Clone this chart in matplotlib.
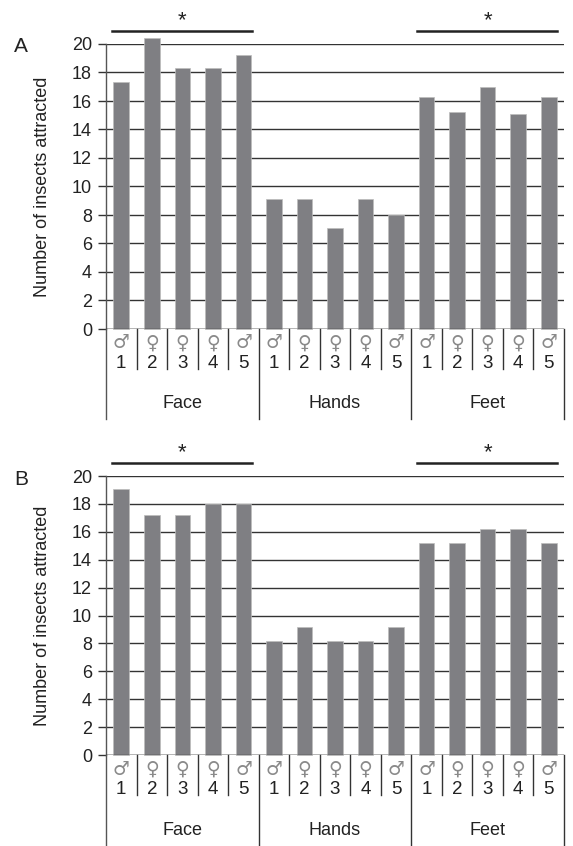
import matplotlib
matplotlib.use("Agg")
import matplotlib.pyplot as plt

plt.rcParams['font.family'] = ['Liberation Sans', 'DejaVu Sans']

# Body sites, and the five volunteers measured at each site
sites = ['Face', 'Hands', 'Feet']
volunteers = ['1', '2', '3', '4', '5']
sexes = ['\u2642', '\u2640', '\u2640', '\u2640', '\u2642']

# Insects attracted per volunteer, in site order (Face, Hands, Feet)
counts_a = [17.3, 20.4, 18.3, 18.3, 19.2,
            9.1, 9.1, 7.1, 9.1, 8.0,
            16.3, 15.2, 17.0, 15.1, 16.3]
counts_b = [19.1, 17.2, 17.2, 18.0, 18.0,
            8.2, 9.2, 8.2, 8.2, 9.2,
            15.2, 15.2, 16.2, 16.2, 15.2]

# Sites marked as significant
starred = ['Face', 'Feet']

bar_color = '#7f7f83'
line_color = '#333333'
text_color = '#222222'

fig = plt.figure(figsize=(5.73, 8.46), dpi=100)
W, H = 573, 846


def px_down(ax, px):
    """Convert a pixel distance below the axes into axes-fraction units."""
    h = ax.get_position().height * H
    return -px / h


def draw_panel(ax, counts, letter):
    n = len(counts)
    xs = list(range(n))
    bars = ax.bar(xs, counts, width=0.51, color=bar_color, edgecolor='#bdbdbd',
                  linewidth=0.5, zorder=3)
    for b in bars:
        b.set_clip_on(False)
    ax.set_xlim(-0.5, n - 0.5)
    ax.set_ylim(0, 20)
    ax.set_yticks(range(0, 21, 2))
    ax.yaxis.grid(True, color=line_color, linewidth=1.0)
    ax.set_axisbelow(True)
    ax.set_xticks([])
    for s in ['top', 'right', 'bottom']:
        ax.spines[s].set_visible(False)
    ax.spines['left'].set_color('#555555')
    ax.spines['left'].set_linewidth(1.0)
    ax.tick_params(axis='y', direction='out', length=6, width=1.0,
                   color=line_color, pad=4, labelsize=13, labelcolor=text_color)
    ax.axhline(0, color=line_color, linewidth=1.0, zorder=4)

    tr = ax.get_xaxis_transform()
    short = px_down(ax, 40)
    long_ = px_down(ax, 90)

    # left spine continues down through the category rows
    ax.plot([-0.5, -0.5], [0, long_], transform=tr, color='#555555',
            linewidth=1.0, clip_on=False)
    for i in range(n):
        right = i + 0.5
        depth = long_ if (i + 1) % len(volunteers) == 0 else short
        ax.plot([right, right], [0, depth], transform=tr, color=line_color,
                linewidth=1.0, clip_on=False)
        k = i % len(volunteers)
        ax.text(i, px_down(ax, 14), sexes[k], transform=tr, ha='center',
                va='center', fontsize=13.5, color='#8a8a8a',
                family=['DejaVu Sans'])
        ax.text(i, px_down(ax, 34), volunteers[k], transform=tr, ha='center',
                va='center', fontsize=13.5, color=text_color)

    for g, site in enumerate(sites):
        first = g * len(volunteers)
        last = first + len(volunteers) - 1
        ax.text((first + last) / 2, px_down(ax, 75), site, transform=tr,
                ha='center', va='center', fontsize=13, color=text_color)
        if site in starred:
            y_line = 1 - px_down(ax, 13)
            y_star = 1 - px_down(ax, 23)
            ax.plot([first - 0.3, last + 0.27], [y_line, y_line], transform=tr,
                    color=text_color, linewidth=1.8, clip_on=False)
            ax.text((first + last) / 2, y_star, '*', transform=tr,
                    ha='center', va='center', fontsize=16, color=text_color)

    pos = ax.get_position()
    fig.text(43 / W, pos.y0 + pos.height / 2, 'Number of insects attracted',
             rotation=90, ha='center', va='center', fontsize=13,
             color=text_color)
    fig.text(21 / W, pos.y1 - 3 / H, letter, ha='center', va='center',
             fontsize=15, color=text_color)


left = 106 / W
width = 458 / W
ax_a = fig.add_axes([left, (H - 329) / H, width, (329 - 44) / H])
ax_b = fig.add_axes([left, (H - 755) / H, width, (755 - 476) / H])

draw_panel(ax_a, counts_a, 'A')
draw_panel(ax_b, counts_b, 'B')

fig.savefig('out.png', dpi=100)
